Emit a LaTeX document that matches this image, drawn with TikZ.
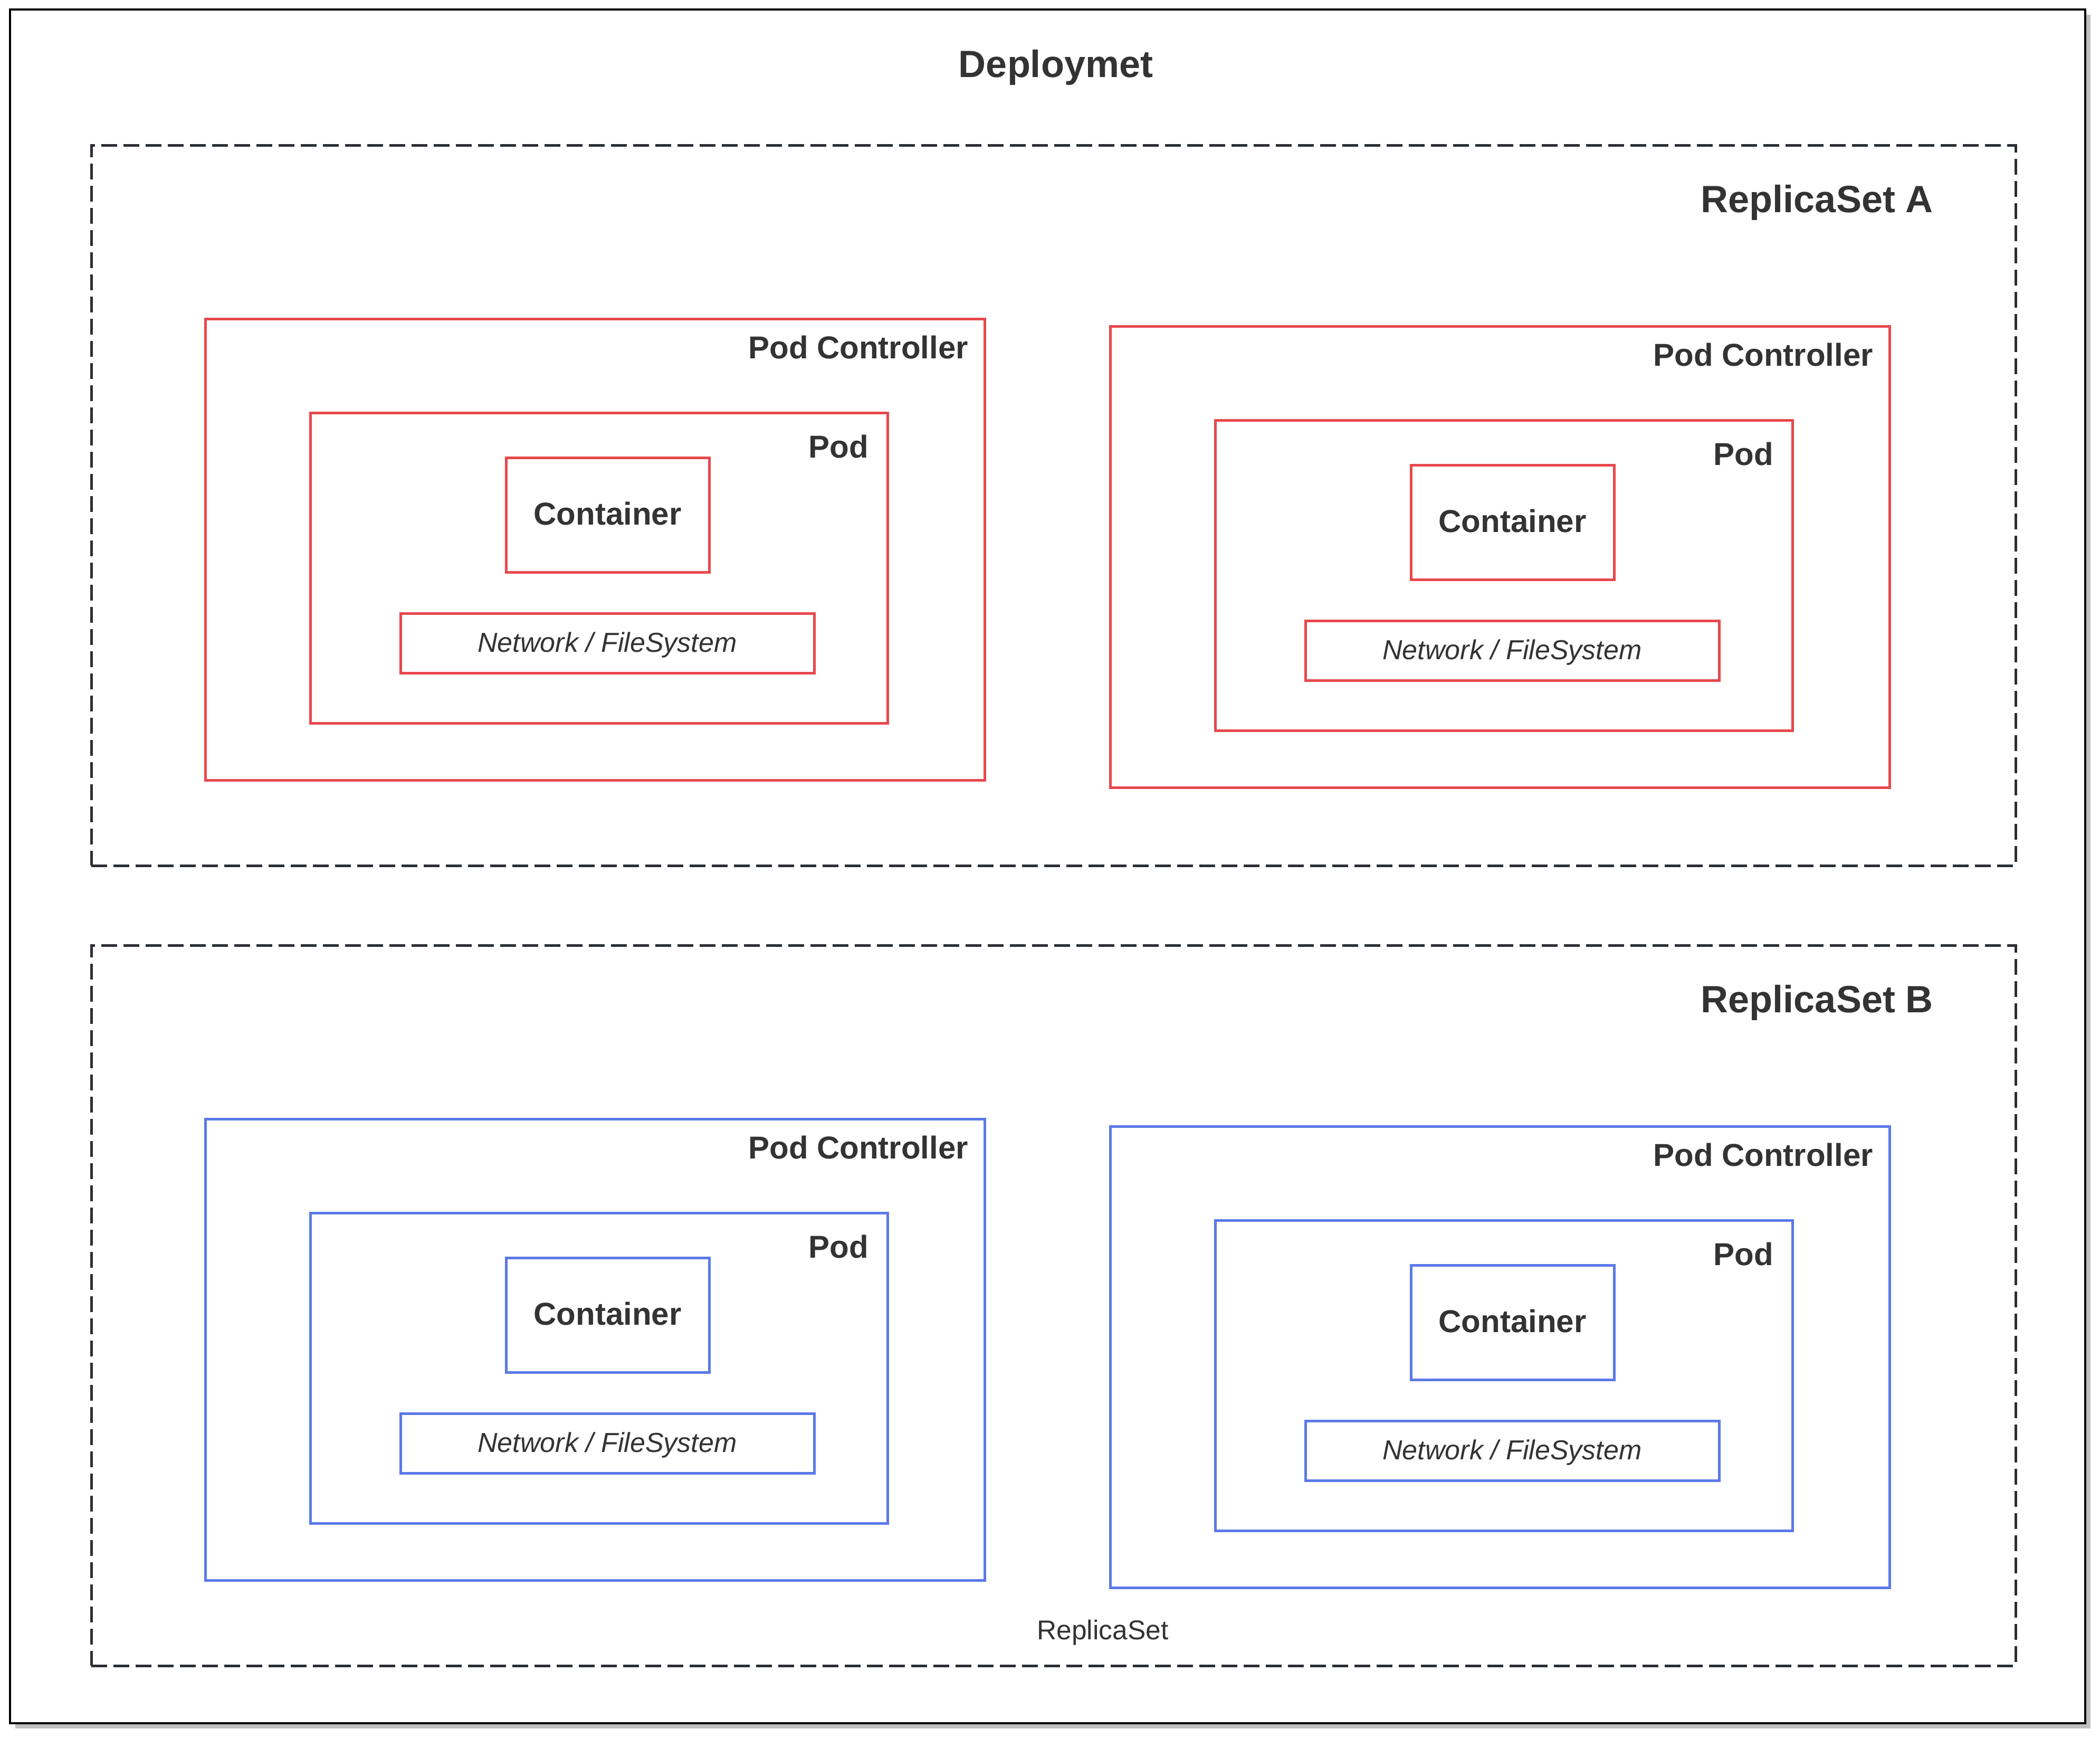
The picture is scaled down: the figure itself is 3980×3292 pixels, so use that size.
\documentclass[tikz,border=0pt]{standalone}
\usepackage{fontspec}
\setmainfont{Liberation Sans}
\usetikzlibrary{fit,shadows}
\definecolor{txt}{HTML}{333333}
\definecolor{dashc}{HTML}{2B2F34}
\definecolor{redc}{HTML}{E8484C}
\definecolor{bluec}{HTML}{5B79E8}
\tikzset{
  frame/.style={draw=black, line width=0.7pt, fill=white,
    drop shadow={shadow xshift=2pt, shadow yshift=-2pt, opacity=0.25, fill=black}},
  rsbox/.style={draw=dashc, line width=1pt, dash pattern=on 6pt off 2.4pt},
  cbox/.style={draw=#1, line width=1pt},
  bigtitle/.style={font=\fontsize{14.4}{16}\selectfont\bfseries, text=txt, inner sep=0pt},
  midtitle/.style={font=\fontsize{12}{14}\selectfont\bfseries, text=txt, inner sep=0pt},
  smalltext/.style={font=\fontsize{10.4}{12}\selectfont\itshape, text=txt, inner sep=0pt},
  plaintext/.style={font=\fontsize{10.3}{12}\selectfont, text=txt, inner sep=0pt}
}
\newcommand\mkbox[6]{%
  \coordinate (#1-a) at (#2,#3);
  \coordinate (#1-b) at (#4,#5);
  \node[fit={(#1-a)(#1-b)}, inner sep=0pt, #6] (#1) {};}
\newcommand\podgroup[4]{% prefix, colour, dx, dy
  \mkbox{#1pc}{389+#3}{604+#4}{1866+#3}{1478+#4}{cbox=#2}
  \mkbox{#1pod}{588+#3}{782+#4}{1682+#3}{1370+#4}{cbox=#2}
  \mkbox{#1con}{959+#3}{867+#4}{1344+#3}{1084+#4}{cbox=#2}
  \mkbox{#1net}{759+#3}{1162+#4}{1543+#3}{1275+#4}{cbox=#2}
  \node[midtitle, anchor=base east] (#1pclbl) at ({1836+#3},{679+#4}) {Pod Controller};
  \node[midtitle, anchor=base east] (#1podlbl) at ({1647+#3},{867+#4}) {Pod};
  \node[midtitle, anchor=base] (#1conlbl) at ({1151.5+#3},{994+#4}) {Container};
  \node[smalltext, anchor=base] (#1netlbl) at ({1151+#3},{1235+#4}) {Network / FileSystem};
}
\begin{document}
\begin{tikzpicture}[x=0.2pt, y=-0.2pt]
\useasboundingbox (0,0) rectangle (3980,3292);
\mkbox{outer}{19}{18}{3952}{3265}{frame}
\node[bigtitle, anchor=base] (deploy) at (2001,146) {Deploymet};
% ReplicaSet A
\mkbox{rsA}{173}{275}{3820}{1640}{rsbox}
\node[bigtitle, anchor=base east] (rsAlbl) at (3665,402) {ReplicaSet A};
\podgroup{aL}{redc}{0}{0}
\podgroup{aR}{redc}{1715}{14}
% ReplicaSet B
\mkbox{rsB}{173}{1791}{3820}{3156}{rsbox}
\node[bigtitle, anchor=base east] (rsBlbl) at (3665,1918) {ReplicaSet B};
\podgroup{bL}{bluec}{0}{1516}
\podgroup{bR}{bluec}{1715}{1530}
\node[plaintext, anchor=base] (rslbl) at (2090,3106) {ReplicaSet};
\end{tikzpicture}
\end{document}
